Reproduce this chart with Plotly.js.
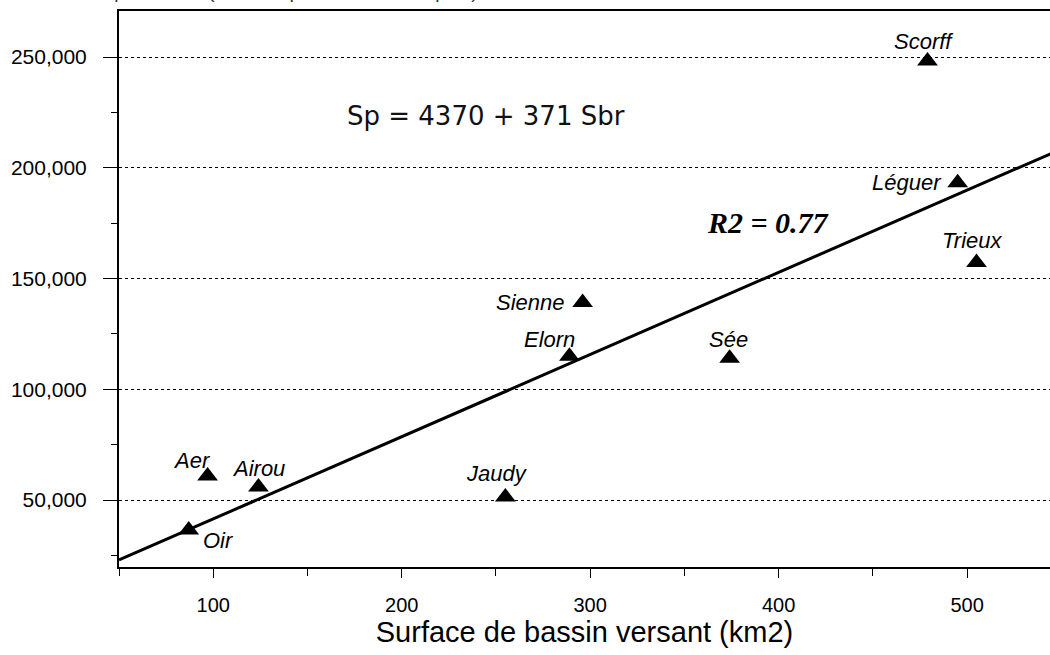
<!DOCTYPE html>
<html>
<head>
<meta charset="utf-8">
<script src="https://cdn.plot.ly/plotly-3.0.1.min.js"></script>
<style>html,body{margin:0;padding:0;overflow:hidden;background:#fff;}#chart{width:1050px;height:655px;}</style>
</head>
<body>
<div id="chart"></div>
<script>
// Data
const rivers = ["Scorff", "Léguer", "Trieux", "Sienne", "Elorn", "Sée", "Jaudy", "Aer", "Airou", "Oir"];
const basinArea = [479, 495, 505, 296, 289, 374, 255, 97, 124, 87];          // km2
const productionArea = [248200, 193200, 157200, 139200, 114900, 114000, 51350, 60800, 55900, 36500];
// label offsets (pixels) relative to each marker
const labelDX = [-4, -51, -5, -52, -20, -1, -8, -16, 0, 30];
const labelDY = [19, 0, 22, 0, 17, 19, 24, 16, 18, -11];
// regression line Sp = 4370 + 371 Sbr, endpoints
const fitX = [50, 550];
const fitY = [22920, 208420];
const xTickVals = [100, 200, 300, 400, 500];
const yTickVals = [50000, 100000, 150000, 200000, 250000];

const traces = [
  {x: fitX, y: fitY, mode: 'lines', line: {color: '#000', width: 3}, hoverinfo: 'skip', cliponaxis: true},
  {x: basinArea, y: productionArea, mode: 'markers', text: rivers,
   marker: {symbol: 'triangle-up', size: 18, color: '#000'}, cliponaxis: false}
];

const annotations = rivers.map((r, i) => ({
  x: basinArea[i], y: productionArea[i], xref: 'x', yref: 'y', text: r, showarrow: false,
  xshift: labelDX[i], yshift: labelDY[i],
  font: {family: 'Liberation Sans, Arial, sans-serif', size: 22, color: '#000', style: 'italic'}
}));
annotations.push({
  x: 394.5, y: 175200, xref: 'x', yref: 'y', showarrow: false, text: '<b><i>R2 = 0.77</i></b>',
  font: {family: 'Liberation Serif, Times New Roman, serif', size: 30, color: '#000'}
});
annotations.push({
  x: 244.5, y: 223500, xref: 'x', yref: 'y', showarrow: false, text: 'Sp = 4370 + 371 Sbr',
  font: {family: 'DejaVu Sans, sans-serif', size: 26, color: '#111'}
});
annotations.push({
  x: 0, y: 1, xref: 'paper', yref: 'paper', xanchor: 'left', yanchor: 'bottom', xshift: -104, yshift: 7,
  showarrow: false, text: 'Surface de production (m2 en équivalent radier rapide)',
  font: {family: 'Liberation Sans, Arial, sans-serif', size: 19, color: '#333'}
});

const layout = {
  width: 1050, height: 655,
  margin: {l: 119, r: 0, t: 11, b: 88},
  paper_bgcolor: '#fff', plot_bgcolor: '#fff',
  showlegend: false,
  font: {family: 'Liberation Sans, Arial, sans-serif', color: '#000', size: 20},
  xaxis: {
    range: [50, 544], tickvals: xTickVals, ticks: 'outside', ticklen: 9, tickwidth: 1, tickcolor: '#000',
    minor: {dtick: 50, tick0: 0, ticks: 'outside', ticklen: 7, tickwidth: 1, tickcolor: '#000', showgrid: false},
    showgrid: false, zeroline: false, showline: true, linecolor: '#000', linewidth: 2, mirror: true,
    tickfont: {size: 20}, ticklabelstandoff: 10,
    title: {text: 'Surface de bassin versant (km2)', font: {size: 29}, standoff: 6}
  },
  yaxis: {
    range: [19750, 270770], tickvals: yTickVals, tickformat: ',d', ticks: 'outside', ticklen: 14, tickwidth: 1, tickcolor: '#000',
    minor: {dtick: 25000, tick0: 0, ticks: 'outside', ticklen: 6, tickwidth: 1, tickcolor: '#000', showgrid: false},
    showgrid: true, gridcolor: '#000', gridwidth: 1, griddash: 'dot',
    zeroline: false, showline: true, linecolor: '#000', linewidth: 2,
    tickfont: {size: 21}, ticklabelstandoff: 12
  },
  annotations: annotations
};

Plotly.newPlot('chart', traces, layout, {displayModeBar: false, staticPlot: true});
</script>
</body>
</html>
